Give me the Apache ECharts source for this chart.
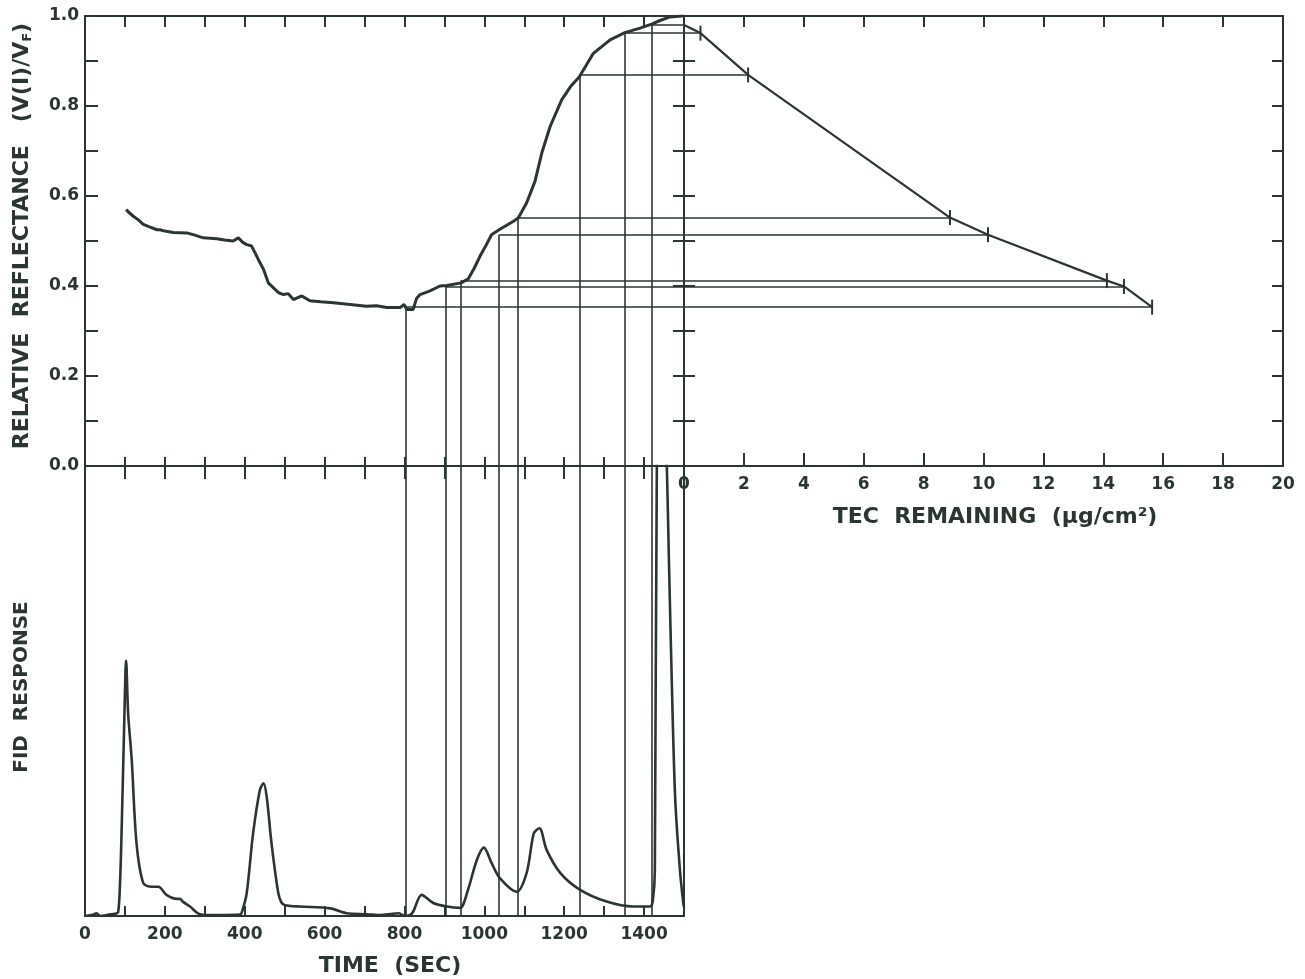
<!DOCTYPE html>
<html>
<head>
<meta charset="utf-8">
<script src="https://cdn.jsdelivr.net/npm/echarts@6/dist/echarts.min.js"></script>
<style>
html,body{margin:0;padding:0;background:#fff;}
#chart{width:1305px;height:979px;}
</style>
</head>
<body>
<div id="chart"></div>
<script>
// ---- Reflectance vs time (top-left panel) ----
const reflTime = [103,108,121,132,146,160,180,188,200,221,255,275,296,330,350,371,384,395,405,417,434,447,459,472,485,497,509,522,543,563,590,622,664,705,730,756,789,799,806,822,830,839,864,889,906,942,960,975,989,1004,1018,1037,1073,1085,1106,1127,1144,1165,1194,1215,1238,1273,1315,1352,1390,1419,1440,1465,1494,1500];
const reflVals = [0.570,0.565,0.555,0.548,0.537,0.532,0.525,0.525,0.522,0.519,0.518,0.513,0.507,0.505,0.502,0.500,0.507,0.497,0.492,0.489,0.459,0.437,0.407,0.396,0.385,0.381,0.383,0.370,0.378,0.367,0.365,0.363,0.359,0.355,0.356,0.352,0.352,0.359,0.348,0.348,0.372,0.381,0.389,0.400,0.401,0.407,0.416,0.440,0.466,0.490,0.514,0.525,0.544,0.551,0.585,0.633,0.696,0.755,0.814,0.842,0.865,0.917,0.947,0.963,0.973,0.982,0.990,0.998,1.0,1.0];

// ---- Reflectance vs TEC remaining (top-right panel) ----
const tecVals  = [0, 0.55, 2.14, 8.88, 10.15, 14.12, 14.69, 15.63];
const tecRefl  = [0.98, 0.962, 0.869, 0.552, 0.514, 0.412, 0.399, 0.353];

// ---- Connector lines: time of sample, reflectance, TEC remaining ----
const markTime = [804, 904, 942, 1037, 1084, 1238, 1352, 1420];
const markRefl = [0.353, 0.399, 0.412, 0.514, 0.552, 0.869, 0.962, 0.98];
const markTec  = [15.63, 14.69, 14.12, 10.15, 8.88, 2.14, 0.55, 0];

// ---- FID response vs time (bottom panel) ----
const fidTime = [0,20,29,38,60,75,83,88,92,98,103,108,117,129,146,167,184,204,230,238,245,263,288,330,388,395,405,421,438,447,455,467,484,492,501,538,614,655,706,740,770,786,800,815,822,843,872,906,939,959,981,999,1018,1039,1081,1106,1124,1138,1156,1190,1240,1306,1373,1415,1422,1427,1432,1443,1457,1462,1470,1478,1490,1498,1500];
const fidVals = [0,0.3,0.6,0,0.3,0.5,0.8,8,20,42,56.7,45,34.7,16.2,7.3,6.5,6.5,4.7,3.8,3.8,3.2,2.1,0.4,0.2,0.3,1.5,5.1,18.4,28,29.5,26.5,16.2,5.1,3,2.4,2.1,1.7,0.6,0.4,0.2,0.5,0.6,0,0.3,1,4.7,2.9,2.1,1.8,5.8,12.4,15.2,11.8,8.4,5.4,9.6,18.4,19.5,14.7,9.6,5.8,3.2,2.1,2.1,3.5,10,100,140,100,80,50,26,10,3,2];

// ---- Tick label sets ----
const timeLabelStep = 200;
const tecTicks = [0,2,4,6,8,10,12,14,16,18,20];

const INK = '#2b3630';
const FONT = 'DejaVu Sans';

const zip = (a, b) => a.map((v, i) => [v, b[i]]);

const axLine = {show: true, onZero: false, lineStyle: {color: INK, width: 2}};
function tick(len) { return {show: true, inside: true, length: len, lineStyle: {color: INK, width: 2}}; }
const noLabel = {show: false};
const noSplit = {show: false};

const labelStyle = {color: INK, fontFamily: FONT, fontSize: 17, fontWeight: 'bold'};

const option = {
  animation: false,
  backgroundColor: '#ffffff',
  grid: [
    {left: 85, top: 16, width: 599, height: 450},   // top-left: reflectance vs time
    {left: 684, top: 16, width: 599, height: 450},  // top-right: reflectance vs TEC
    {left: 85, top: 466, width: 599, height: 450}   // bottom: FID vs time
  ],
  xAxis: [
    {gridIndex: 0, type: 'value', position: 'bottom', min: 0, max: 1500, interval: 100,
     axisLine: axLine, axisTick: tick(9), axisLabel: noLabel, splitLine: noSplit},
    {gridIndex: 0, type: 'value', position: 'top', min: 0, max: 1500, interval: 100,
     axisLine: axLine, axisTick: tick(11), axisLabel: noLabel, splitLine: noSplit},
    {gridIndex: 1, type: 'value', position: 'bottom', min: 0, max: 20, interval: 2,
     axisLine: axLine, axisTick: tick(13), splitLine: noSplit,
     axisLabel: Object.assign({show: true, margin: 10, showMinLabel: true, showMaxLabel: true,
       formatter: v => tecTicks.indexOf(v) >= 0 ? String(v) : ''}, labelStyle)},
    {gridIndex: 1, type: 'value', position: 'top', min: 0, max: 20, interval: 2,
     axisLine: axLine, axisTick: tick(11), axisLabel: noLabel, splitLine: noSplit},
    {gridIndex: 2, type: 'value', position: 'bottom', min: 0, max: 1500, interval: 100,
     axisLine: axLine, axisTick: tick(10), splitLine: noSplit,
     axisLabel: Object.assign({show: true, margin: 10, showMinLabel: true,
       formatter: v => (v % timeLabelStep === 0 && v < 1500) ? String(v) : ''}, labelStyle)},
    {gridIndex: 2, type: 'value', position: 'top', min: 0, max: 1500, interval: 100,
     axisLine: axLine, axisTick: tick(13), axisLabel: noLabel, splitLine: noSplit}
  ],
  yAxis: [
    {gridIndex: 0, type: 'value', position: 'left', min: 0, max: 1, interval: 0.1,
     axisLine: axLine, axisTick: tick(13), splitLine: noSplit,
     axisLabel: Object.assign({show: true, margin: 6, showMinLabel: true, showMaxLabel: true,
       formatter: v => (Math.round(v * 10) % 2 === 0) ? v.toFixed(1) : ''}, labelStyle)},
    {gridIndex: 0, type: 'value', position: 'right', min: 0, max: 1, interval: 0.1,
     axisLine: axLine, axisTick: tick(11), axisLabel: noLabel, splitLine: noSplit},
    {gridIndex: 1, type: 'value', position: 'left', min: 0, max: 1, interval: 0.1,
     axisLine: axLine, axisTick: tick(11), axisLabel: noLabel, splitLine: noSplit},
    {gridIndex: 1, type: 'value', position: 'right', min: 0, max: 1, interval: 0.1,
     axisLine: axLine, axisTick: tick(11), axisLabel: noLabel, splitLine: noSplit},
    {gridIndex: 2, type: 'value', position: 'left', min: 0, max: 100,
     axisLine: axLine, axisTick: {show: false}, axisLabel: noLabel, splitLine: noSplit},
    {gridIndex: 2, type: 'value', position: 'right', min: 0, max: 100,
     axisLine: axLine, axisTick: {show: false}, axisLabel: noLabel, splitLine: noSplit}
  ],
  series: [
    {type: 'line', name: 'reflectance', xAxisIndex: 0, yAxisIndex: 0,
     data: zip(reflTime, reflVals), showSymbol: false, symbol: 'none',
     lineStyle: {color: INK, width: 3}, z: 5},
    {type: 'line', name: 'tec', xAxisIndex: 2, yAxisIndex: 2,
     data: tecVals.map((v, i) => i === 0 ? {value: [v, tecRefl[i]], symbol: 'none'} : [v, tecRefl[i]]),
     symbol: 'rect', symbolSize: [2, 15], showSymbol: true,
     itemStyle: {color: INK}, lineStyle: {color: INK, width: 2.2}, z: 5},
    {type: 'line', name: 'fid', xAxisIndex: 4, yAxisIndex: 4, clip: true,
     data: zip(fidTime, fidVals), showSymbol: false, symbol: 'none', smooth: 0.3,
     lineStyle: {color: INK, width: 2.6}, z: 5},
    {type: 'lines', coordinateSystem: 'cartesian2d', xAxisIndex: 0, yAxisIndex: 0, silent: true,
     lineStyle: {color: INK, width: 1.6, opacity: 1},
     data: markTime.map((t, i) => ({coords: [[t, markRefl[i]], [t, 0]]}))
       .concat(markTime.map((t, i) => ({coords: [[t, markRefl[i]], [1500, markRefl[i]]]})))},
    {type: 'lines', coordinateSystem: 'cartesian2d', xAxisIndex: 2, yAxisIndex: 2, silent: true,
     lineStyle: {color: INK, width: 1.6, opacity: 1},
     data: markTec.map((v, i) => ({coords: [[0, markRefl[i]], [v, markRefl[i]]]}))},
    {type: 'lines', coordinateSystem: 'cartesian2d', xAxisIndex: 4, yAxisIndex: 4, silent: true,
     lineStyle: {color: INK, width: 1.6, opacity: 1},
     data: markTime.map(t => ({coords: [[t, 0], [t, 100]]}))}
  ],
  graphic: [
    {type: 'text', x: 22, y: 236, rotation: Math.PI / 2,
     style: {text: 'RELATIVE  REFLECTANCE   (V(I)/V{s|F})', fill: INK,
       font: 'bold 22px "DejaVu Sans"', align: 'center', verticalAlign: 'middle',
       rich: {s: {fontSize: 13, fontWeight: 'bold', fontFamily: FONT, fill: INK, verticalAlign: 'bottom', lineHeight: 24}}}},
    {type: 'text', x: 22, y: 687, rotation: Math.PI / 2,
     style: {text: 'FID  RESPONSE', fill: INK, font: 'bold 20px "DejaVu Sans"',
       align: 'center', verticalAlign: 'middle'}},
    {type: 'text', x: 995, y: 517,
     style: {text: 'TEC  REMAINING  (μg/cm²)', fill: INK, font: 'bold 22px "DejaVu Sans"',
       align: 'center', verticalAlign: 'middle'}},
    {type: 'text', x: 390, y: 966,
     style: {text: 'TIME  (SEC)', fill: INK, font: 'bold 22px "DejaVu Sans"',
       align: 'center', verticalAlign: 'middle'}}
  ]
};

const chart = echarts.init(document.getElementById('chart'), null, {renderer: 'canvas'});
chart.setOption(option);
</script>
</body>
</html>
